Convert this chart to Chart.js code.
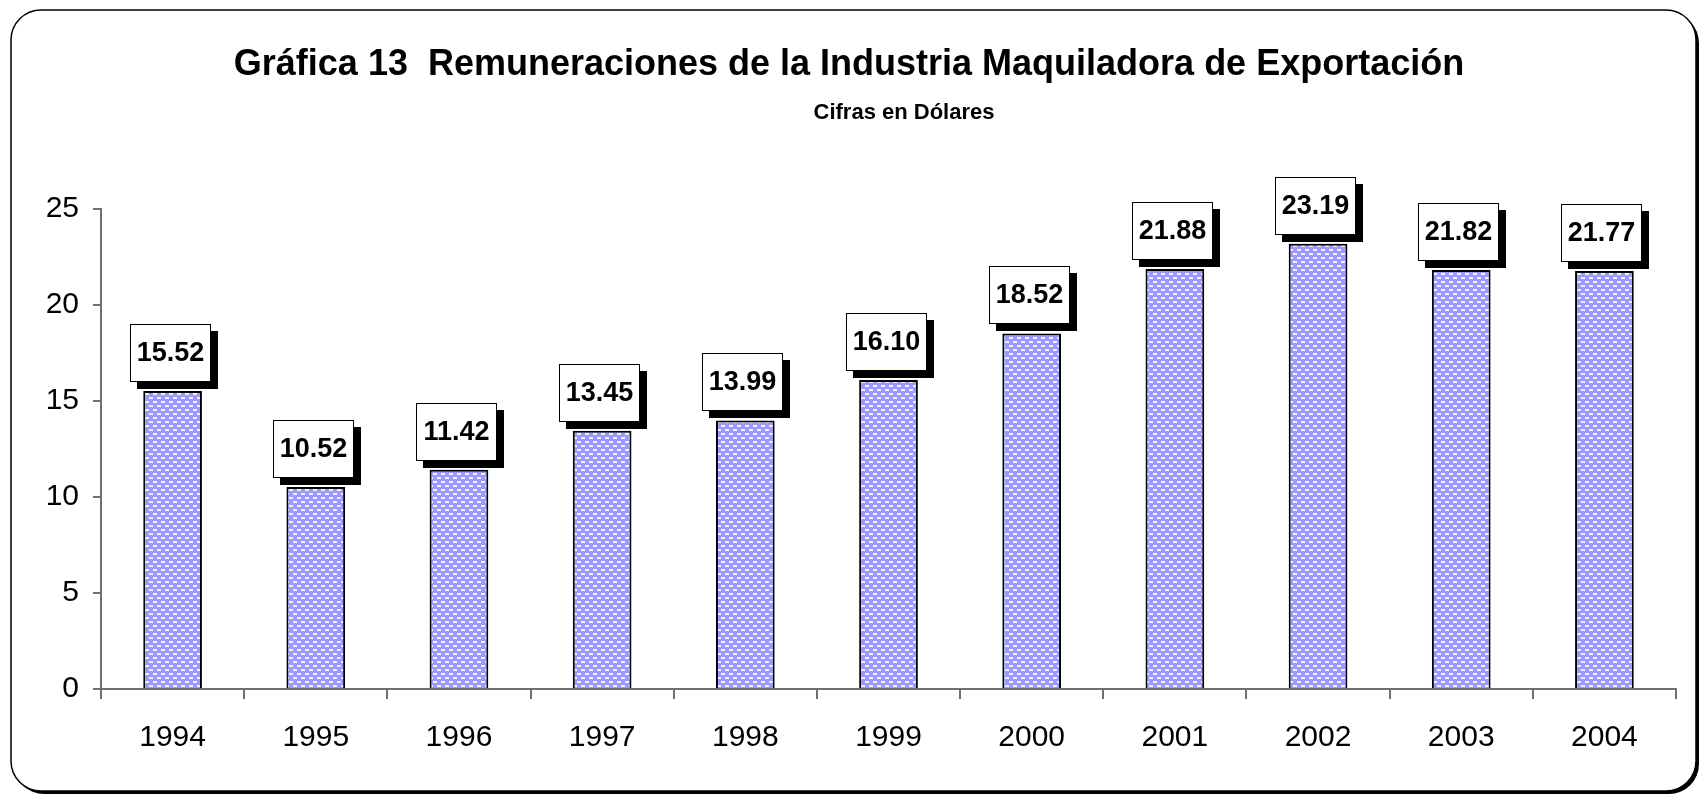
<!DOCTYPE html>
<html>
<head>
<meta charset="utf-8">
<script src="https://cdn.jsdelivr.net/npm/chart.js@4/dist/chart.umd.min.js"></script>
<style>
    body { margin: 0; background: #fff; }
    canvas { display: block; }
</style>
</head>
<body>
<canvas id="grafica13" width="1700" height="796"></canvas>
<script>
// ===== DATOS =====
const anios = ['1994', '1995', '1996', '1997', '1998', '1999', '2000', '2001', '2002', '2003', '2004'];
const remuneraciones = [15.52, 10.52, 11.42, 13.45, 13.99, 16.10, 18.52, 21.88, 23.19, 21.82, 21.77];
const ticksY = [0, 5, 10, 15, 20, 25];
const titulo = 'Gráfica 13  Remuneraciones de la Industria Maquiladora de Exportación';
const subtitulo = 'Cifras en Dólares';

const FUENTE = '"Liberation Sans", Arial, sans-serif';

// ===== TRAMA DE LAS BARRAS =====
function crearTrama() {
    const c = document.createElement('canvas');
    c.width = 8;
    c.height = 8;
    const g = c.getContext('2d');
    g.fillStyle = '#9999ff';
    g.fillRect(0, 0, 8, 8);
    g.fillStyle = '#eeeeff';
    g.fillRect(1, 1, 4, 2);
    g.fillRect(5, 5, 3, 2);
    g.fillRect(0, 5, 1, 2);
    return g.createPattern(c, 'repeat');
}

// ===== MARCO REDONDEADO =====
function rectRedondo(ctx, x, y, w, h, r) {
    ctx.beginPath();
    ctx.moveTo(x + r, y);
    ctx.lineTo(x + w - r, y);
    ctx.arcTo(x + w, y, x + w, y + r, r);
    ctx.lineTo(x + w, y + h - r);
    ctx.arcTo(x + w, y + h, x + w - r, y + h, r);
    ctx.lineTo(x + r, y + h);
    ctx.arcTo(x, y + h, x, y + h - r, r);
    ctx.lineTo(x, y + r);
    ctx.arcTo(x, y, x + r, y, r);
    ctx.closePath();
}

const marco = {
    id: 'marco',
    beforeDraw(chart) {
        const ctx = chart.ctx;
        ctx.save();
        ctx.fillStyle = '#fff';
        ctx.fillRect(0, 0, chart.width, chart.height);
        // sombra
        rectRedondo(ctx, 14, 13, 1685, 781, 30);
        ctx.fillStyle = '#000';
        ctx.fill();
        rectRedondo(ctx, 11, 10, 1685, 781, 30);
        ctx.fillStyle = '#fff';
        ctx.fill();
        ctx.lineWidth = 1.5;
        ctx.strokeStyle = '#000';
        ctx.stroke();
        ctx.restore();
    }
};

const titulos = {
    id: 'titulos',
    afterDraw(chart) {
        const ctx = chart.ctx;
        ctx.save();
        ctx.fillStyle = '#000';
        ctx.textAlign = 'center';
        ctx.textBaseline = 'middle';
        ctx.font = 'bold 36px ' + FUENTE;
        ctx.fillText(titulo, 849, 65);
        ctx.font = 'bold 22px ' + FUENTE;
        ctx.fillText(subtitulo, 904, 113);
        ctx.restore();
    }
};

// ===== ETIQUETAS CON SOMBRA =====
const etiquetas = {
    id: 'etiquetas',
    afterDatasetsDraw(chart) {
        const ctx = chart.ctx;
        const meta = chart.getDatasetMeta(0);
        ctx.save();
        meta.data.forEach((barra, i) => {
            const w = 81, h = 58;
            const x = Math.round(barra.x - 43);
            const y = Math.round(barra.y - 67);
            ctx.fillStyle = '#000';
            ctx.fillRect(x + 7, y + 7, w, h);
            ctx.fillStyle = '#fff';
            ctx.fillRect(x, y, w, h);
            ctx.lineWidth = 1;
            ctx.strokeStyle = '#000';
            ctx.strokeRect(x + 0.5, y + 0.5, w - 1, h - 1);
            ctx.fillStyle = '#000';
            ctx.font = 'bold 27px ' + FUENTE;
            ctx.textAlign = 'center';
            ctx.textBaseline = 'middle';
            ctx.fillText(remuneraciones[i].toFixed(2), x + w / 2, y + h / 2 + 1);
        });
        ctx.restore();
    }
};

// ===== GRÁFICA =====
const ctx = document.getElementById('grafica13').getContext('2d');
new Chart(ctx, {
    type: 'bar',
    data: {
        labels: anios,
        datasets: [{
            data: remuneraciones,
            backgroundColor: crearTrama(),
            borderColor: '#000',
            borderWidth: 2,
            barPercentage: 0.41,
            categoryPercentage: 1
        }]
    },
    options: {
        responsive: false,
        animation: false,
        layout: {
            padding: { left: 0, top: 209, right: 24, bottom: 0 }
        },
        plugins: {
            legend: { display: false },
            tooltip: { enabled: false }
        },
        scales: {
            x: {
                afterFit(scale) { scale.height = 107; },
                grid: {
                    offset: true,
                    drawOnChartArea: false,
                    tickLength: 10,
                    color: '#707070',
                    lineWidth: 2
                },
                border: { color: '#707070', width: 2 },
                ticks: {
                    color: '#000',
                    padding: 21,
                    font: { family: FUENTE, size: 30 }
                }
            },
            y: {
                min: 0,
                max: 25,
                afterFit(scale) { scale.width = 101; },
                afterBuildTicks(scale) {
                    scale.ticks = ticksY.map(v => ({ value: v }));
                },
                grid: {
                    drawOnChartArea: false,
                    tickLength: 8,
                    color: '#707070',
                    lineWidth: 2
                },
                border: { color: '#707070', width: 2 },
                ticks: {
                    color: '#000',
                    padding: 14,
                    font: { family: FUENTE, size: 30 }
                }
            }
        }
    },
    plugins: [marco, titulos, etiquetas]
});
</script>
</body>
</html>
